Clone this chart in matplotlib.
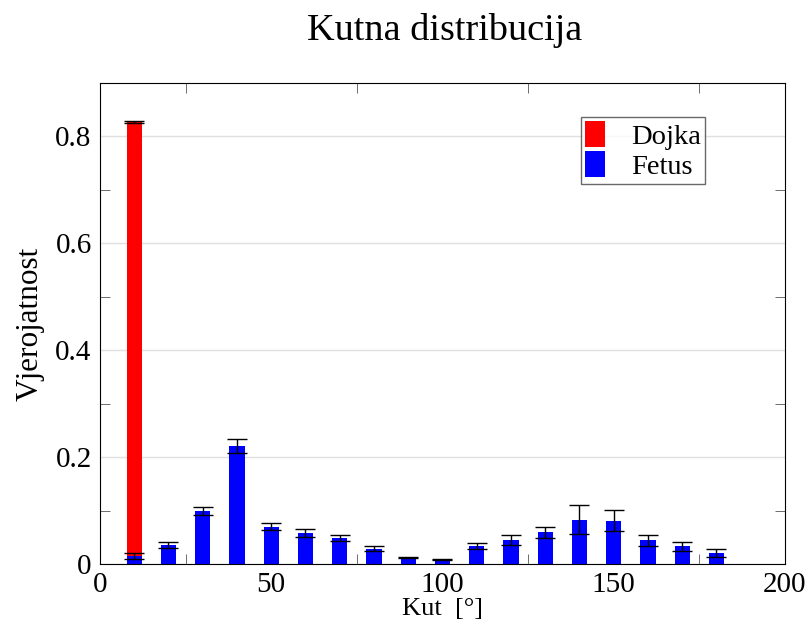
import matplotlib
matplotlib.use("Agg")
import matplotlib.pyplot as plt
from matplotlib.ticker import MultipleLocator

plt.rcParams['font.family'] = ['Liberation Serif', 'DejaVu Serif']

angles = [10, 20, 30, 40, 50, 60, 70, 80, 90, 100, 110, 120, 130, 140, 150, 160, 170, 180]
fetus = [0.015, 0.036, 0.099, 0.221, 0.070, 0.058, 0.049, 0.029, 0.0125, 0.009, 0.034,
         0.045, 0.059, 0.083, 0.081, 0.044, 0.033, 0.021]
fetus_err = [0.005, 0.006, 0.008, 0.013, 0.007, 0.008, 0.006, 0.004, 0.0015, 0.001, 0.005,
             0.009, 0.011, 0.027, 0.020, 0.010, 0.009, 0.008]
dojka_x = [10]
dojka = [0.827]
dojka_err = [0.002]

fig = plt.figure(figsize=(8.12, 6.25), dpi=100)
ax = fig.add_axes([100/812, 1-564/625, 685/812, 481/625])

ax.bar(dojka_x, dojka, width=4.4, color='#ff0000', label='Dojka', zorder=2)
ax.errorbar(dojka_x, dojka, yerr=dojka_err, fmt='none', ecolor='black', elinewidth=1,
            capsize=7, zorder=3)
ax.bar(angles, fetus, width=4.4, color='#0000ff', label='Fetus', zorder=2)
ax.errorbar(angles, fetus, yerr=fetus_err, fmt='none', ecolor='black', elinewidth=1,
            capsize=7, zorder=3)

ax.set_xlim(0, 200)
ax.set_ylim(0, 0.9)
ax.xaxis.set_major_locator(MultipleLocator(50))
ax.xaxis.set_minor_locator(MultipleLocator(25))
ax.yaxis.set_major_locator(MultipleLocator(0.2))
ax.yaxis.set_minor_locator(MultipleLocator(0.1))
ax.set_yticks([0, 0.2, 0.4, 0.6, 0.8])
ax.set_yticklabels(['0', '0.2', '0.4', '0.6', '0.8'])
ax.tick_params(which='both', direction='in', top=True, right=True, labelsize=21)
ax.tick_params(which='major', length=0, pad=6)
ax.tick_params(which='minor', length=7, color='#555555')
ax.grid(axis='y', which='major', color='#e0e0e0', linewidth=1, zorder=0)
ax.set_axisbelow(True)

ax.set_xlabel('Kut  [°]', fontsize=19, labelpad=0)
ax.set_ylabel('Vjerojatnost', fontsize=22.5, labelpad=8)
fig.text(445/812, 1-31/625, 'Kutna distribucija', fontsize=27.5, ha='center', va='center')

leg = ax.legend(loc='upper left', bbox_to_anchor=((581-100)/685, (564-117)/481),
                fontsize=20.5, frameon=True, fancybox=False, edgecolor='#444444',
                handlelength=0.7, handleheight=1.0, borderpad=0.15, labelspacing=0.05,
                handletextpad=0.9, borderaxespad=0)
leg.get_frame().set_linewidth(1)

fig.savefig('out.png', dpi=100)
